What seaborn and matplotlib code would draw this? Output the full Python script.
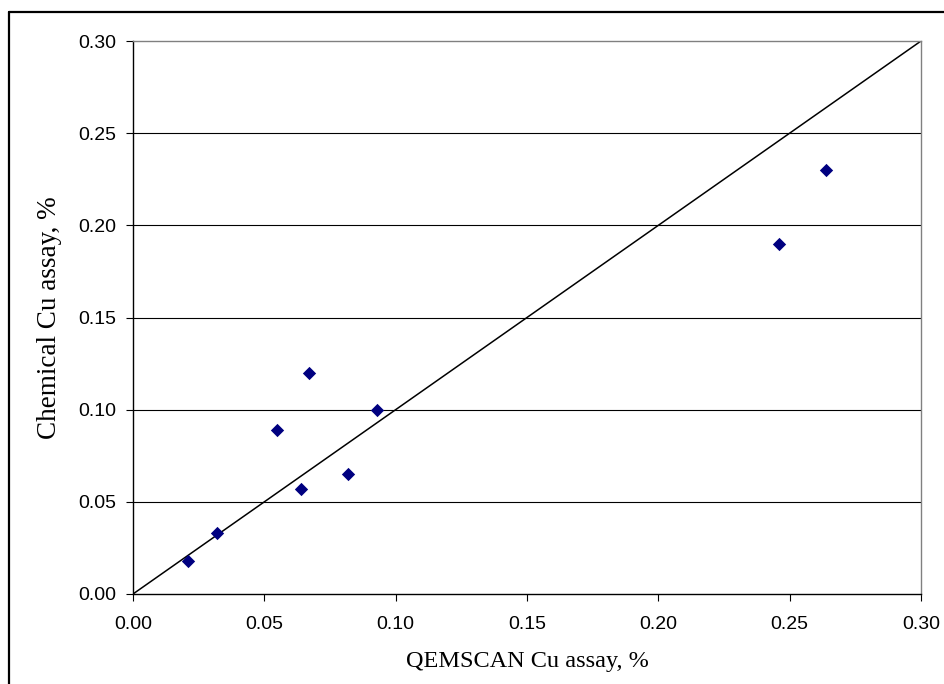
import matplotlib
matplotlib.use("Agg")
import matplotlib.pyplot as plt
from matplotlib.lines import Line2D
import seaborn as sns
import pandas as pd

# Assay comparison: QEMSCAN vs chemical Cu (%)
qemscan_cu = [0.021, 0.032, 0.055, 0.064, 0.067, 0.082, 0.093, 0.246, 0.264]
chemical_cu = [0.018, 0.033, 0.089, 0.057, 0.120, 0.065, 0.100, 0.190, 0.230]
parity_line = [0.0, 0.30]
tick_values = [0.00, 0.05, 0.10, 0.15, 0.20, 0.25, 0.30]
tick_labels = ["0.00", "0.05", "0.10", "0.15", "0.20", "0.25", "0.30"]

sns.set_theme(style="white")
plt.rcParams["font.family"] = ["Liberation Sans", "DejaVu Sans"]

df = pd.DataFrame({"qemscan": qemscan_cu, "chemical": chemical_cu})
line_df = pd.DataFrame({"x": parity_line, "y": parity_line})

fig = plt.figure(figsize=(9.45, 6.84), dpi=100)
W, H = 945, 684
ax = fig.add_axes([133 / W, (H - 594) / H, (921 - 133) / W, (594 - 41) / H])

# horizontal gridlines
for v in tick_values[1:-1]:
    ax.axhline(v, color="black", lw=0.8, zorder=1)

sns.lineplot(data=line_df, x="x", y="y", color="black", lw=1.1, ax=ax, zorder=2)
sns.scatterplot(data=df, x="qemscan", y="chemical", marker="D", s=46,
                color="#000080", linewidth=0, ax=ax, zorder=3)

ax.set_xlim(0, 0.30)
ax.set_ylim(0, 0.30)
ax.set_xticks(tick_values)
ax.set_xticklabels(tick_labels)
ax.set_yticks(tick_values)
ax.set_yticklabels(tick_labels)
ax.tick_params(axis="both", direction="out", length=5, width=0.8, color="black",
               labelsize=14, labelcolor="black", bottom=True, left=True)
ax.tick_params(axis="x", pad=11)
ax.tick_params(axis="y", pad=7)

for side in ("left", "bottom"):
    ax.spines[side].set_color("black")
    ax.spines[side].set_linewidth(1.0)
for side in ("top", "right"):
    ax.spines[side].set_color("#808080")
    ax.spines[side].set_linewidth(1.0)

ax.set_xlabel("QEMSCAN Cu assay, %", fontsize=17.5, family="Liberation Serif",
              color="black", labelpad=13)
ax.set_ylabel("Chemical Cu assay, %", fontsize=19.5, family="Liberation Serif",
              color="black", labelpad=12)

# outer frame (top and left edges)
fig.add_artist(Line2D([9 / W, 9 / W], [0, (H - 12) / H], color="black", lw=1.6,
                      transform=fig.transFigure))
fig.add_artist(Line2D([9 / W, 1], [(H - 12) / H, (H - 12) / H], color="black", lw=1.6,
                      transform=fig.transFigure))

fig.savefig("out.png", dpi=100, facecolor="white")
